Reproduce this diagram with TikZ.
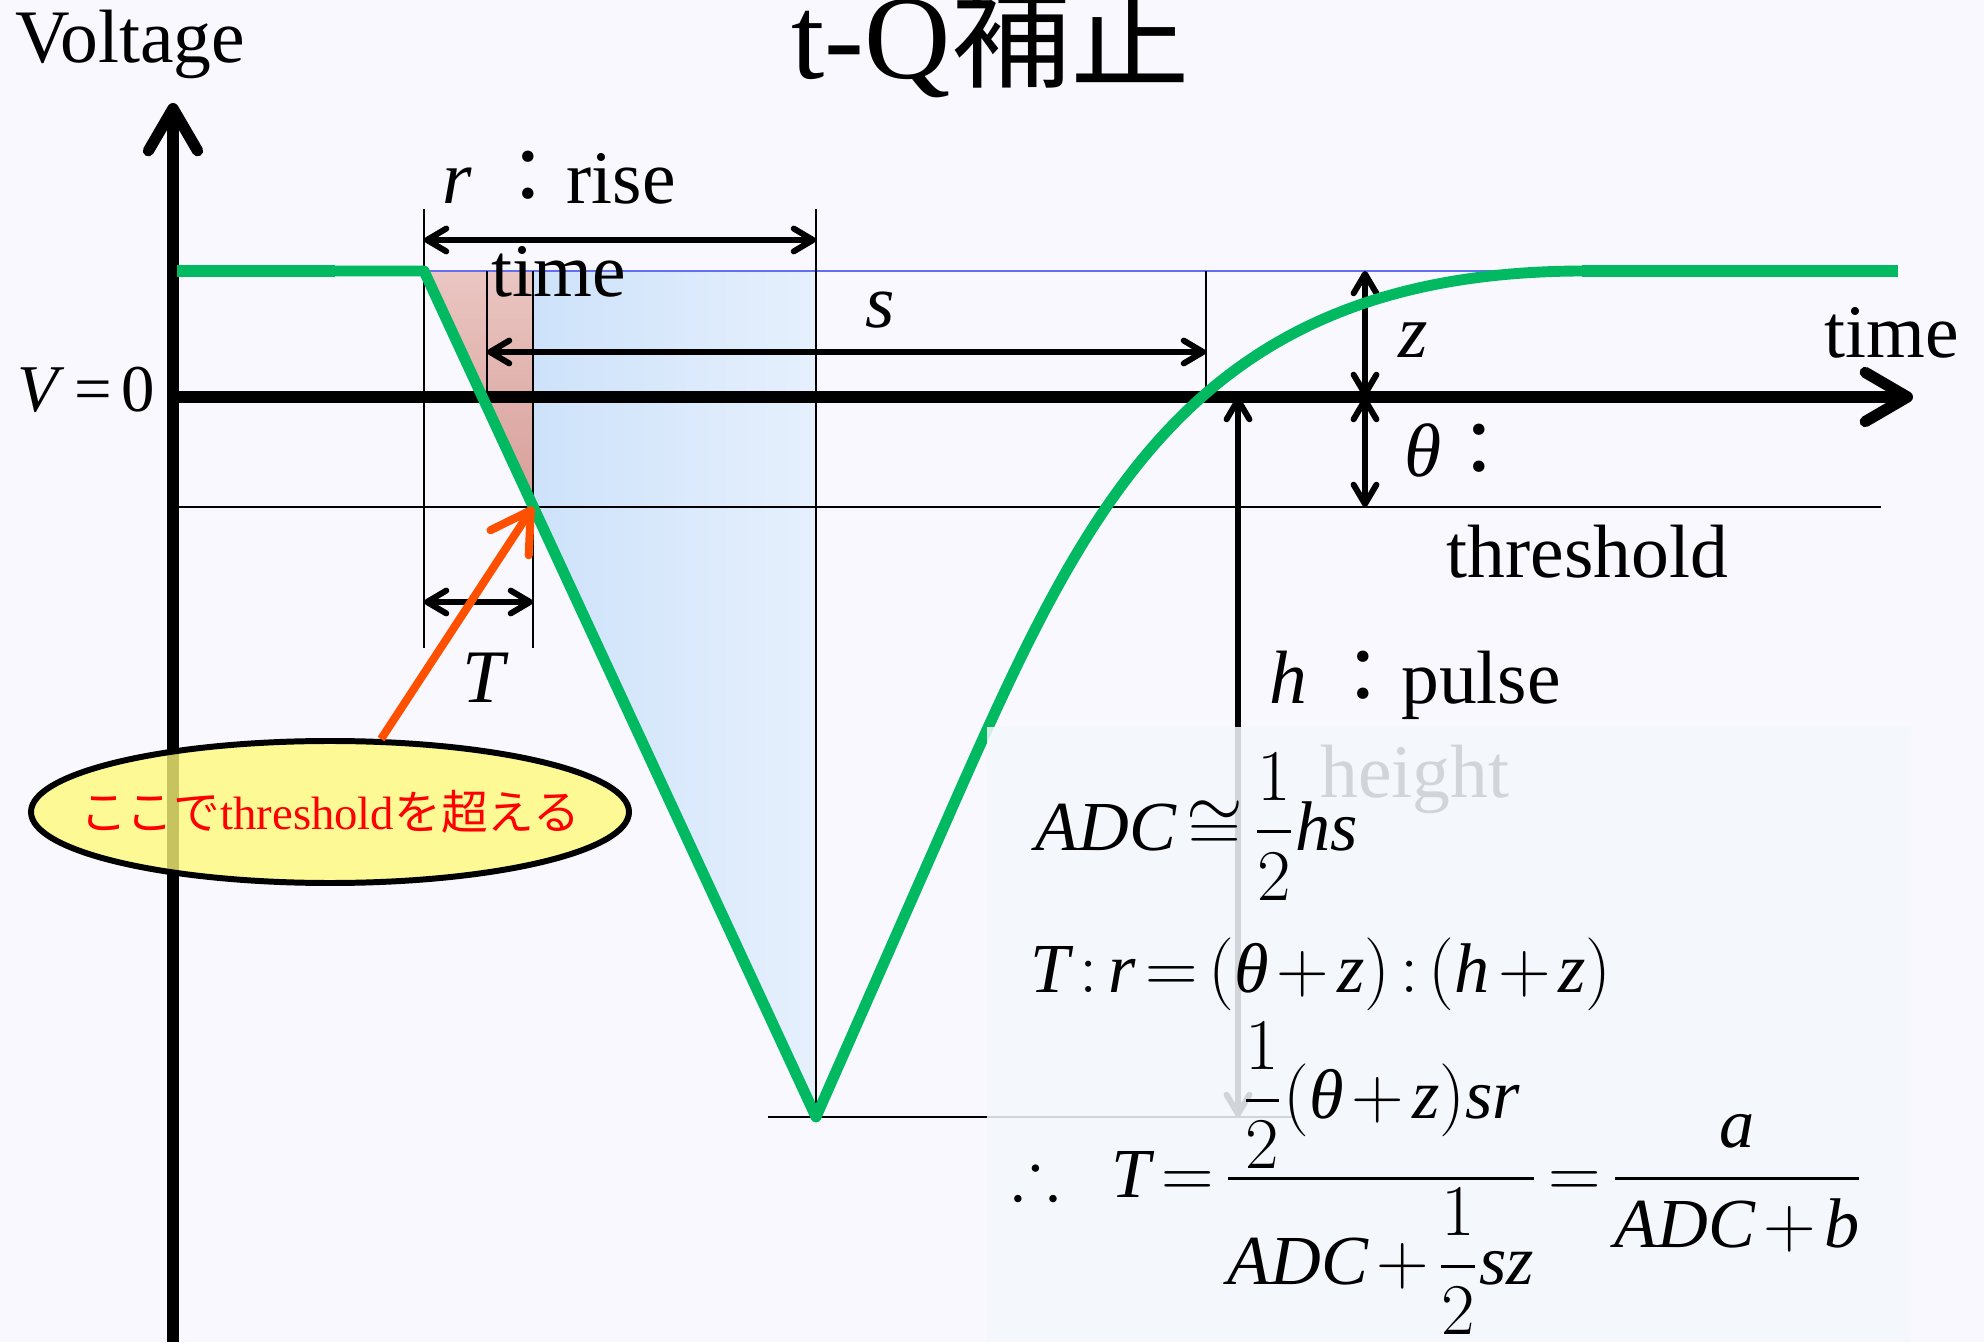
\documentclass[tikz,border=0pt]{standalone}
\usepackage{amsmath,amssymb}
\usepackage{fontspec}
\setmainfont{Liberation Serif}
\newfontfamily\jpfont{Noto Sans CJK JP}
\usetikzlibrary{arrows.meta,shapes.geometric}
\definecolor{bgwhite}{RGB}{248,248,254}
\definecolor{pulsegreen}{RGB}{0,185,96}
\definecolor{baseblue}{RGB}{100,110,240}
\definecolor{arrorange}{RGB}{255,80,0}
\definecolor{notefill}{RGB}{255,251,122}
\definecolor{boxfill}{RGB}{244,247,252}
\definecolor{areablueL}{RGB}{205,226,250}
\definecolor{areablueR}{RGB}{230,240,253}
\definecolor{areapinkT}{RGB}{234,198,194}
\definecolor{areapinkB}{RGB}{216,158,152}
\newcommand{\labfont}{\fontsize{21.5}{26.5}\selectfont}
\newcommand{\eqfont}{\fontsize{20}{24}\selectfont\thickmuskip=2.5mu\medmuskip=2mu}

\begin{document}
\begin{tikzpicture}[x=1cm,y=1cm,
  thinline/.style={line width=0.6pt},
  dimarrow/.style={line width=1.7pt,{Straight Barb[length=5.5pt,width=6.5pt,round]}-{Straight Barb[length=5.5pt,width=6.5pt,round]}},
  axisline/.style={line width=3.2pt,-{Straight Barb[length=12pt,width=14pt,round]}},
  pulse/.style={pulsegreen,line width=3.1pt,line join=round,line cap=round},
  pulseflat/.style={pulsegreen,line width=3.6pt},
  lab/.style={font=\labfont,inner sep=0pt}]
\useasboundingbox (0,0) rectangle (19.84,13.42);
\fill[bgwhite] (0,0) rectangle (19.84,13.42);
\def\ybase{10.71}
\def\yzero{9.45}
\def\ythr{8.35}
\def\ypeak{2.25}
\coordinate (start) at (4.24,\ybase);
\coordinate (cross) at (5.33,\ythr);
\coordinate (peak) at (8.16,\ypeak);
% areas
\shade[left color=areablueL,right color=areablueR] (5.33,\ybase) -- (8.16,\ybase) -- (peak) -- (cross) -- cycle;
\shade[top color=areapinkT,bottom color=areapinkB] (start) -- (5.33,\ybase) -- (cross) -- cycle;
% guide lines
\draw[baseblue,line width=0.5pt] (3.67,\ybase) -- (15.75,\ybase);
\draw[thinline] (4.24,11.33) -- (4.24,6.94);
\draw[thinline] (4.87,\ybase) -- (4.87,\yzero);
\draw[thinline] (5.33,\ybase) -- (5.33,6.94);
\draw[thinline] (8.16,11.33) -- (peak);
\draw[thinline] (12.06,\ybase) -- (12.06,\yzero);
\draw[thinline] (1.77,\ythr) -- (18.81,\ythr);
\draw[thinline] (7.68,\ypeak) -- (12.95,\ypeak);
% axes
\draw[axisline] (1.73,0) -- (1.73,12.39);
\draw[axisline] (1.73,\yzero) -- (19.13,\yzero);
% dimensions
\draw[dimarrow] (4.24,11.02) -- (8.16,11.02);
\draw[dimarrow] (4.87,9.90) -- (12.06,9.90);
\draw[dimarrow] (4.24,7.40) -- (5.33,7.40);
\draw[dimarrow] (13.65,\ybase) -- (13.65,\yzero);
\draw[dimarrow] (13.65,\yzero) -- (13.65,\ythr);
% labels
\node[lab,anchor=base west] (voltage) at (0.15,12.79) {Voltage};
\node[inner sep=0pt,anchor=base west,font=\fontsize{34}{40}\selectfont] (title) at (7.91,12.63) {t-Q{\jpfont 補正}};
\node[inner sep=0pt,anchor=base east,font=\fontsize{19}{23}\selectfont] (vzero) at (1.56,9.30) {\textit{V}\hspace{0.15em}=\hspace{0.15em}0};
\node[lab,anchor=base,align=center] (rlab) at (5.59,10.45) {\textit{r} {\jpfont ：}rise\\time};
\node[lab,anchor=base] (slab) at (8.80,10.14) {\textit{s}};
\node[lab,anchor=base] (zlab) at (14.13,9.84) {\textit{z}};
\node[lab,anchor=base west] (timelab) at (18.24,9.84) {time};
\node[lab,anchor=base west] (thlab) at (14.04,8.65) {\textit{θ}{\jpfont ：}};
\node[lab,anchor=base west] (thrlab) at (14.46,7.64) {threshold};
\node[lab,anchor=base] (tlab) at (4.86,6.39) {\textit{T}};
% pulse
\draw[pulseflat] (1.77,\ybase) -- (3.35,\ybase);
\draw[pulse] (2.9,\ybase) -- (start) -- (peak) -- (9.60,5.52) .. controls (10.90,8.45) and (12.00,10.70) .. (15.82,\ybase) -- (16.2,\ybase);
\draw[pulseflat] (15.82,\ybase) -- (18.98,\ybase);
% note
\node[ellipse,draw,line width=1.7pt,fill=notefill,fill opacity=0.78,text opacity=1,
  minimum width=5.98cm,minimum height=1.42cm,inner xsep=-0.4cm,inner ysep=0pt,text=red,
  font=\fontsize{13.3}{16}\selectfont] (note) at (3.30,5.30) {{\jpfont ここで}threshold{\jpfont を超える}};
\draw[arrorange,line width=2.3pt,-{Straight Barb[length=11pt,width=13pt,round]}] (note.55) -- (cross);
% pulse height
\node[lab,anchor=base,align=center] (hlab) at (14.15,5.45) {\textit{h} {\jpfont ：}pulse\\height};
\draw[dimarrow] (12.38,\ypeak) -- (12.38,\yzero);
\fill[boxfill,fill opacity=0.86] (9.87,0) rectangle (19.11,6.15);
% formulas
\node[anchor=base west,inner sep=0pt] (eqadc) at (10.35,4.92) {\eqfont $\displaystyle \textit{ADC}\cong\frac{1}{2}\textit{hs}$};
\node[anchor=base west,inner sep=0pt] (eqratio) at (10.30,3.50) {\eqfont $\displaystyle \textit{T}:\textit{r}=(\textit{θ}+\textit{z}):(\textit{h}+\textit{z})$};
\node[anchor=base west,inner sep=0pt] (eqT) at (10.12,1.45) {\eqfont $\displaystyle \therefore\hspace{12pt}\textit{T}=\frac{\dfrac{1}{2}(\textit{θ}+\textit{z})\textit{sr}}{\textit{ADC}+\dfrac{1}{2}\textit{sz}}=\frac{\textit{a}}{\textit{ADC}+\textit{b}}$};
\end{tikzpicture}
\end{document}
